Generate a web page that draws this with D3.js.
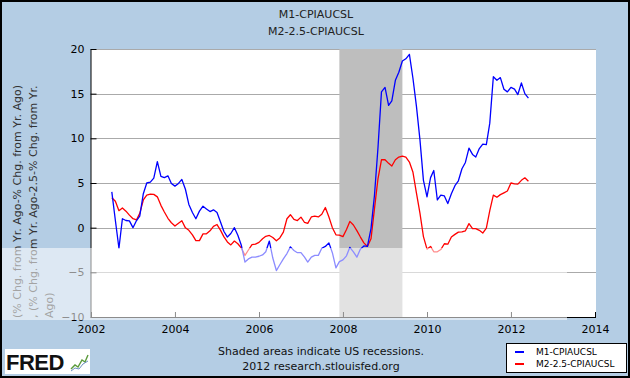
<!DOCTYPE html>
<html>
<head>
<meta charset="utf-8">
<script src="https://cdn.jsdelivr.net/npm/d3@7"></script>
<style>
  html, body { margin: 0; padding: 0; background: #fff; }
  svg { display: block; font-family: "DejaVu Sans", Verdana, sans-serif; }
</style>
</head>
<body>
<svg id="chart" width="630" height="378"></svg>
<script>
// monthly series, Jul 2002 .. Jun 2012
const startMonth = new Date(2002, 6, 1);

const m1 = [
  4.0, 0.8, -2.3, 1.0, 0.8, 0.76, 0.0, 0.8, 1.3, 3.8,
  5.0, 5.1, 5.55, 7.4, 5.75, 5.6, 5.8, 4.95, 4.65, 4.95,
  5.4, 4.3, 2.6, 1.7, 1.0, 1.85, 2.4, 2.1, 1.8, 2.0,
  1.7, 0.6, -0.4, -1.05, -0.65, 0.0, -0.85, -2.0, -3.85, -3.5,
  -3.3, -3.3, -3.2, -3.05, -2.7, -1.5, -3.4, -4.8, -4.15, -3.5,
  -2.9, -2.15, -2.55, -2.8, -2.8, -3.3, -3.85, -3.3, -3.1, -3.1,
  -2.3, -2.1, -1.7, -2.8, -4.5, -3.8, -3.6, -3.15, -2.2, -2.7,
  -3.3, -2.4, -2.05, -2.1, -0.1, 3.6, 9.0, 15.2, 15.7, 13.7,
  14.2, 16.5, 17.4, 18.65, 18.9, 19.4, 16.7, 13.6, 9.8, 5.3,
  3.45, 5.6, 6.4, 3.1, 3.65, 3.55, 2.7, 3.8, 4.7, 5.25,
  6.6, 7.3, 8.9, 8.2, 7.9, 8.85, 9.35, 9.3, 11.7, 16.9,
  16.5, 16.8, 15.5, 15.2, 15.7, 15.5, 14.9, 16.2, 15.0, 14.5
];

const m2 = [
  3.35, 2.95, 1.9, 2.2, 1.85, 1.4, 1.0, 0.87, 1.6, 3.1,
  3.65, 3.75, 3.73, 3.45, 2.5, 1.75, 1.05, 0.55, 0.18, 0.5,
  0.78, -0.02, -0.3, -0.8, -1.45, -1.45, -0.7, -0.68, -0.35, 0.15,
  0.35, -0.3, -1.0, -1.6, -1.93, -1.5, -1.8, -2.3, -3.1, -2.5,
  -1.9, -1.85, -1.65, -1.25, -0.97, -0.87, -1.1, -1.47, -1.15, -0.5,
  1.0, 1.45, 0.92, 0.8, 1.18, 0.58, 0.48, 1.2, 1.28, 1.2,
  1.5, 2.26, 1.2, 0.0, -0.8, -0.84, -1.0, -0.2, 0.7, 0.3,
  -0.33, -1.05, -1.7, -2.1, -1.25, 2.1, 5.5, 7.6, 7.6, 7.2,
  6.9, 7.6, 7.9, 8.0, 7.9, 7.35, 6.2, 3.9, 1.6, -1.0,
  -2.4, -2.1, -2.7, -2.7, -2.45, -1.8, -1.85, -1.05, -0.75, -0.5,
  -0.48, -0.35, 0.45, -0.1, -0.1, -0.3, -0.6, -0.05, 1.9, 3.64,
  3.4, 3.7, 3.9, 4.1, 5.0, 4.9, 4.87, 5.3, 5.58, 5.2
];

const seriesNames = ['M1-CPIAUCSL', 'M2-2.5-CPIAUCSL'];
const seriesColors = ['#0000ff', '#ff0000'];
const yTicks = [-10, -5, 0, 5, 10, 15, 20];
const xYears = [2002, 2004, 2006, 2008, 2010, 2012, 2014];
const recessions = [[new Date(2007, 11, 1), new Date(2009, 5, 1)]];
const yTitleLines = [
  '(% Chg. from Yr. Ago-% Chg. from Yr. Ago)',
  ', (% Chg. from Yr. Ago-2.5-% Chg. from Yr.',
  'Ago)'
];

const W = 630, H = 378;
const P = { left: 91, right: 596, top: 49, bottom: 317 };

const svg = d3.select('#chart');

svg.append('rect')
  .attr('width', W).attr('height', H)
  .attr('fill', '#b4cde4');

const x = d3.scaleTime()
  .domain([new Date(2002, 0, 1), new Date(2014, 0, 1)])
  .range([P.left, 595]);
const y = d3.scaleLinear().domain([-10, 20]).range([P.bottom, P.top]);

// plot area
svg.append('rect')
  .attr('x', P.left).attr('y', P.top)
  .attr('width', P.right - P.left).attr('height', P.bottom - P.top)
  .attr('fill', '#fff');

// grid
svg.append('g').selectAll('line')
  .data(yTicks.filter(d => d > -10))
  .join('line')
  .attr('x1', P.left).attr('x2', P.right)
  .attr('y1', d => Math.round(y(d)) + 0.5).attr('y2', d => Math.round(y(d)) + 0.5)
  .attr('stroke', '#aaaaaa').attr('stroke-width', 1);

// recession shading
svg.append('g').selectAll('rect')
  .data(recessions)
  .join('rect')
  .attr('x', d => x(d[0])).attr('width', d => x(d[1]) - x(d[0]))
  .attr('y', P.top).attr('height', P.bottom - P.top)
  .attr('fill', '#bebebe');

// axes
const yAxis = svg.append('g')
  .attr('transform', `translate(${P.left - 0.5},0)`)
  .call(d3.axisLeft(y).tickValues(yTicks).tickSize(-6).tickSizeOuter(0).tickPadding(6));
const xAxis = svg.append('g')
  .attr('transform', `translate(0,${P.bottom})`)
  .call(d3.axisBottom(x)
    .tickValues(xYears.map(yr => new Date(yr, 0, 1)))
    .tickFormat(d3.timeFormat('%Y'))
    .tickSize(-5).tickSizeOuter(0).tickPadding(8));
[yAxis, xAxis].forEach(g => {
  g.selectAll('path.domain').attr('stroke', '#000').attr('stroke-width', 1);
  g.selectAll('.tick line').attr('stroke', '#000');
  g.selectAll('.tick text').attr('fill', '#000').style('font-size', '11px')
    .style('font-family', '"DejaVu Sans", Verdana, sans-serif');
});
xAxis.select('path.domain').attr('d', `M${P.left},0.5H${P.right}`);

// series
const line = d3.line()
  .x((d, i) => x(d3.timeMonth.offset(startMonth, i)))
  .y(d => y(d));
svg.append('g').selectAll('path')
  .data([m2, m1])
  .join('path')
  .attr('d', d => line(d))
  .attr('fill', 'none')
  .attr('stroke', (d, i) => seriesColors[1 - i])
  .attr('stroke-width', 1.3)
  .attr('stroke-linejoin', 'round');

// titles
svg.append('g').selectAll('text')
  .data(seriesNames)
  .join('text')
  .attr('x', 316).attr('y', (d, i) => 18 + i * 17)
  .attr('text-anchor', 'middle')
  .attr('font-size', 11).attr('fill', '#222')
  .text(d => d);

svg.append('g')
  .attr('transform', 'rotate(-90)')
  .selectAll('text')
  .data(yTitleLines)
  .join('text')
  .attr('x', -318).attr('y', (d, i) => 20.5 + i * 16)
  .attr('font-size', 11).attr('fill', '#333')
  .text(d => d);

// footer
svg.append('g').selectAll('text')
  .data(['Shaded areas indicate US recessions.', '2012 research.stlouisfed.org'])
  .join('text')
  .attr('x', 321).attr('y', (d, i) => 355 + i * 15)
  .attr('text-anchor', 'middle')
  .attr('font-size', 11).attr('fill', '#111')
  .text(d => d);

// legend
const lg = svg.append('g').attr('transform', 'translate(506,343)');
lg.append('rect').attr('x', 0.5).attr('y', 0.5).attr('width', 120).attr('height', 29)
  .attr('fill', '#fff').attr('stroke', '#000');
const li = lg.selectAll('g.item').data(seriesNames).join('g')
  .attr('transform', (d, i) => `translate(0,${9 + i * 12})`);
li.append('line').attr('x1', 9).attr('x2', 18).attr('stroke-width', 2)
  .attr('stroke', (d, i) => seriesColors[i]);
li.append('text').attr('x', 30).attr('y', 3.2)
  .attr('font-size', 9).attr('fill', '#000').text(d => d);

// FRED logo
const logo = svg.append('g').attr('transform', 'translate(5,349)');
logo.append('rect').attr('width', 85).attr('height', 25).attr('fill', '#fff');
logo.append('text').attr('x', 1).attr('y', 21)
  .style('font-family', '"Liberation Sans", Arial, sans-serif')
  .attr('font-weight', 'bold').attr('font-size', 22).attr('letter-spacing', -0.5)
  .attr('fill', '#111').text('FRED');
logo.append('polyline').attr('points', '66,20 70,16 73,18 77,11 80,13 83,6')
  .attr('fill', 'none').attr('stroke', '#5a9a3a').attr('stroke-width', 1.4);
logo.append('polyline').attr('points', '66,22 70,19 74,20 78,15 83,12')
  .attr('fill', 'none').attr('stroke', '#6c8fc0').attr('stroke-width', 1);

// light band across lower part
svg.append('rect').attr('x', 0).attr('y', 248).attr('width', 567).attr('height', 72)
  .attr('fill', '#fff').attr('opacity', 0.55);

// frame
svg.append('rect').attr('x', 1).attr('y', 1).attr('width', W - 2).attr('height', H - 2)
  .attr('fill', 'none').attr('stroke', '#000').attr('stroke-width', 2);
</script>
</body>
</html>
